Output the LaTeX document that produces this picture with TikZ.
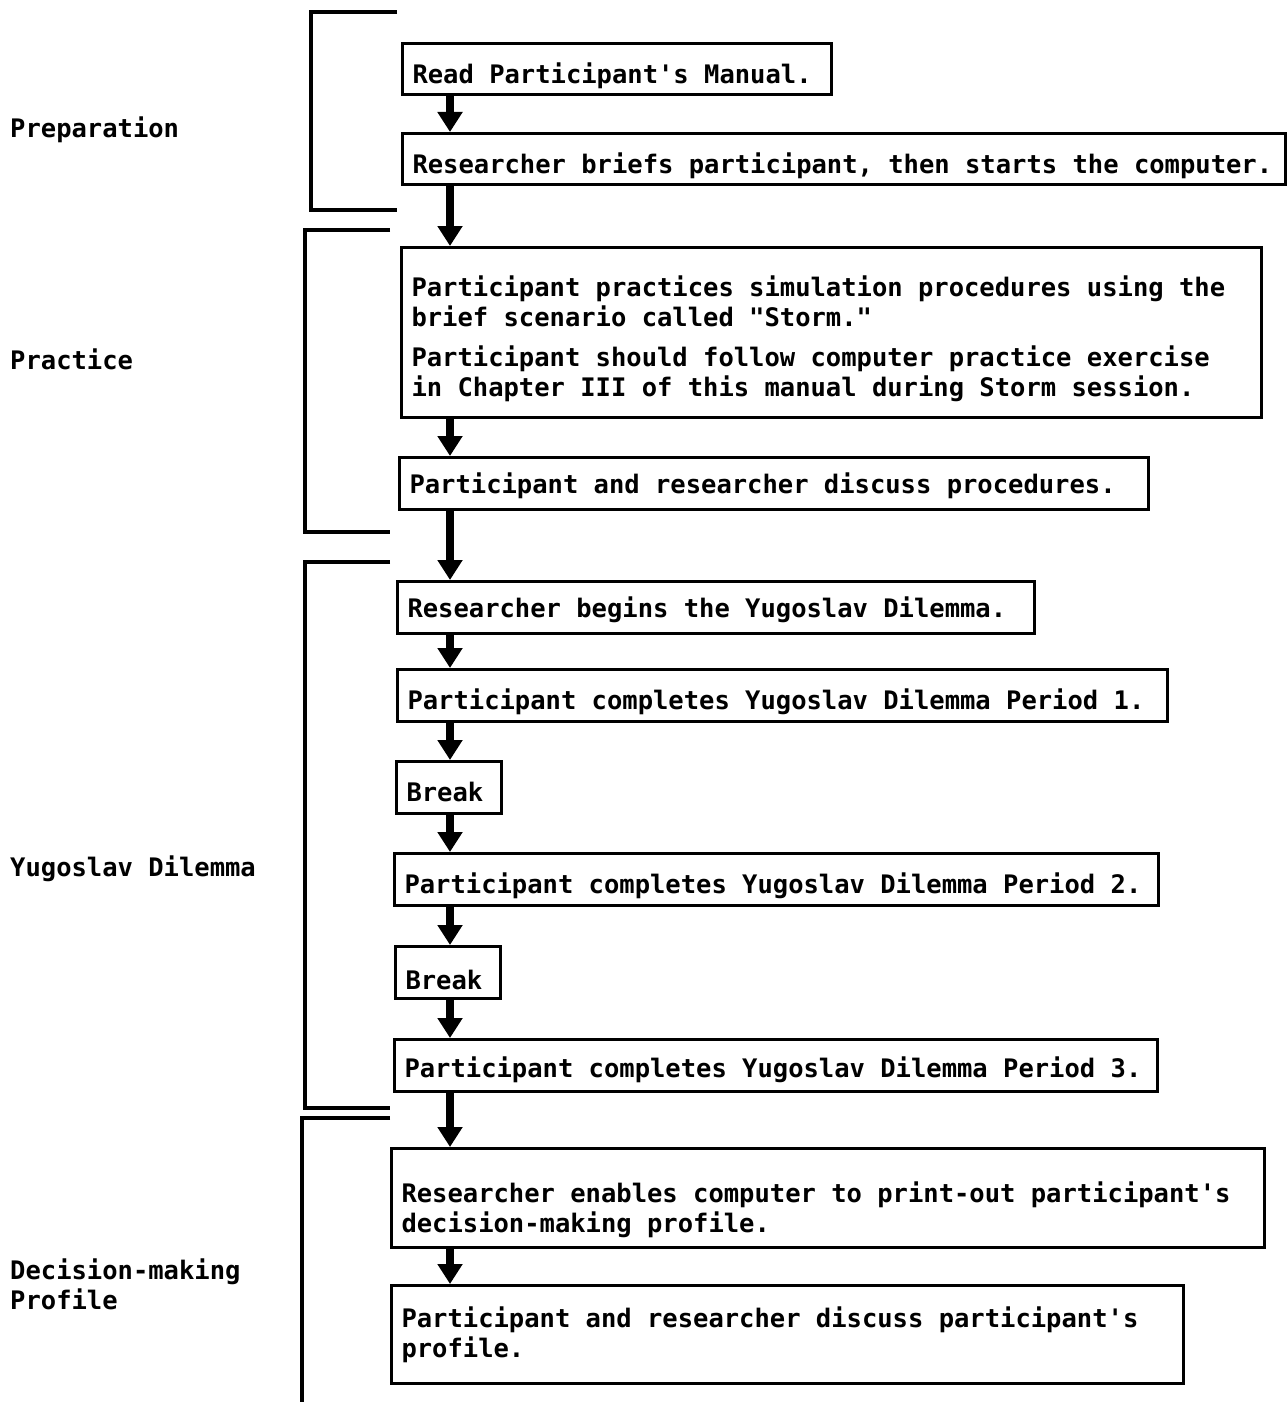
\documentclass[tikz,border=0pt]{standalone}
\usepackage{fontspec}
\setmonofont{DejaVu Sans Mono}
\usetikzlibrary{arrows.meta}
\tikzset{
  stepbox/.style={draw, line width=3pt, anchor=north west, align=flush left, inner xsep=10pt, inner ysep=0pt,
    execute at begin node={\rule{0pt}{#1}}},
  stepbox/.default=34pt,
  flow/.style={line width=8pt, -{Triangle[width=24pt,length=20pt]}},
  bracket/.style={line width=4pt, line join=miter},
  phase/.style={anchor=base west, inner sep=0pt}
}
\begin{document}
\begin{tikzpicture}[x=1pt, y=-1pt, font=\ttfamily\bfseries\fontsize{25.5pt}{30pt}\selectfont]
\useasboundingbox (0,0) rectangle (1287,1402);
\coordinate (ax) at (450,0);
\node[stepbox, minimum width=429pt, minimum height=51pt, text width=409pt] (read) at (401,42) {Read Participant's Manual.};
\node[stepbox, minimum width=883pt, minimum height=51pt, text width=863pt] (brief) at (401,132) {Researcher briefs participant, then starts the computer.};
\node[stepbox, minimum width=860pt, minimum height=170pt, text width=840pt] (storm) at (400,246) {Participant practices simulation procedures using the\\brief scenario called "Storm."\\[10pt]Participant should follow computer practice exercise\\in Chapter III of this manual during Storm session.};
\node[stepbox=25pt, minimum width=749pt, minimum height=52pt, text width=729pt] (discuss) at (398,456) {Participant and researcher discuss procedures.};
\node[stepbox=25pt, minimum width=637pt, minimum height=52pt, text width=617pt] (begin) at (396,580) {Researcher begins the Yugoslav Dilemma.};
\node[stepbox, minimum width=770pt, minimum height=52pt, text width=750pt] (per1) at (396,668) {Participant completes Yugoslav Dilemma Period 1.};
\node[stepbox=29pt, minimum width=105pt, minimum height=52pt, text width=85pt] (brk1) at (395,760) {Break};
\node[stepbox=33pt, minimum width=764pt, minimum height=52pt, text width=744pt] (per2) at (393,852) {Participant completes Yugoslav Dilemma Period 2.};
\node[stepbox, minimum width=105pt, minimum height=52pt, text width=85pt] (brk2) at (394,945) {Break};
\node[stepbox=29pt, minimum width=763pt, minimum height=52pt, text width=743pt] (per3) at (393,1038) {Participant completes Yugoslav Dilemma Period 3.};
\node[stepbox=45pt, minimum width=873pt, minimum height=99pt, text width=853pt] (print) at (390,1147) {Researcher enables computer to print-out participant's\\decision-making profile.};
\node[stepbox=19pt, minimum width=792pt, minimum height=98pt, text width=772pt] (talk) at (390,1284) {Participant and researcher discuss participant's\\profile.};
\draw[flow] (read.south -| ax) -- (brief.north -| ax); \draw[flow] (brief.south -| ax) -- (storm.north -| ax);
\draw[flow] (storm.south -| ax) -- (discuss.north -| ax); \draw[flow] (discuss.south -| ax) -- (begin.north -| ax);
\draw[flow] (begin.south -| ax) -- (per1.north -| ax); \draw[flow] (per1.south -| ax) -- (brk1.north -| ax);
\draw[flow] (brk1.south -| ax) -- (per2.north -| ax); \draw[flow] (per2.south -| ax) -- (brk2.north -| ax);
\draw[flow] (brk2.south -| ax) -- (per3.north -| ax); \draw[flow] (per3.south -| ax) -- (print.north -| ax);
\draw[flow] (print.south -| ax) -- (talk.north -| ax);
\node[phase] (prep) at (10,138) {Preparation};
\node[phase] (prac) at (10,369) {Practice};
\node[phase] (yugo) at (10,876) {Yugoslav Dilemma};
\node[anchor=west, inner sep=0pt, align=left] (dec) at (10,1284) {Decision-making\\Profile};
\draw[bracket] (397,12) -- (311,12) -- (311,210) -- (397,210);
\draw[bracket] (390,230) -- (305,230) -- (305,532) -- (390,532);
\draw[bracket] (390,562) -- (305,562) -- (305,1108) -- (390,1108);
\draw[bracket] (390,1118) -- (302,1118) -- (302,1402);
\end{tikzpicture}
\end{document}
